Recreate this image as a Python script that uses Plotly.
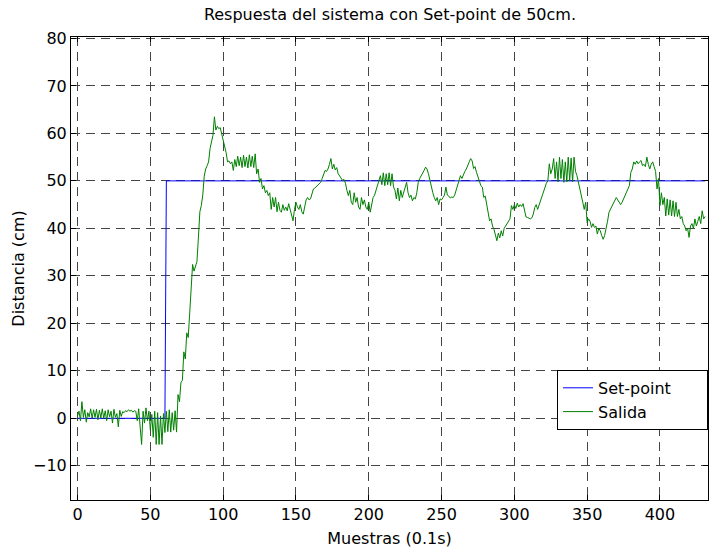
import plotly.graph_objects as go

# Muestras de la salida medida (cm), una por periodo de 0.1 s
salida = [
    0.5, 1.5, -0.5, 3.5, 0.2, 1.8, -0.8, 1.2, 0.3, 2.0,
    0.0, 1.8, 0.2, 1.9, -0.3, 1.7, 0.1, 2.0, 0.0, 1.6,
    -0.5, 1.8, 0.3, 1.5, -1.0, 1.9, 0.2, 1.0, -1.8, 1.7,
    0.4, 1.4, 1.2, 1.6, 1.4, 1.8, 1.5, 1.7, 1.3, 1.6,
    1.5, -0.5, 2.0, -1.5, -5.5, 1.5, -1.0, 2.2, -0.5, 1.5,
    -2.5, 0.8, -4.0, 1.5, -5.5, 1.2, -5.5, 0.5, -5.5, 1.0,
    -3.0, 1.5, -2.8, 1.8, -2.9, 1.2, -2.5, 1.6, -2.9, 5.0,
    3.5, 7.5, 8.0, 14.0, 12.5, 18.0, 17.0, 22.0, 27.0, 32.4,
    31.0, 32.0, 33.0, 38.0, 43.5, 44.8, 47.0, 51.0, 52.5, 53.2,
    54.0, 56.8, 58.5, 59.6, 63.5, 60.7, 61.5, 61.0, 61.2, 60.0,
    58.5, 57.8, 56.0, 54.0, 54.2, 53.6, 54.0, 52.2, 54.5, 53.0,
    55.2, 53.2, 55.0, 52.8, 55.4, 53.0, 55.0, 52.7, 55.5, 53.0,
    55.2, 52.8, 55.7, 51.5, 52.5, 49.7, 50.5, 48.3, 49.0, 47.5,
    48.0, 46.9, 47.5, 44.0, 46.5, 44.5, 46.5, 43.5, 45.5, 43.8,
    43.4, 45.0, 43.8, 44.5, 43.7, 45.2, 44.0, 43.0, 41.6, 44.0,
    45.5, 44.5, 44.0, 45.0, 43.5, 43.0, 44.5, 46.0, 46.5, 46.0,
    46.2, 47.5, 48.3, 48.5, 48.8, 49.0, 49.3, 49.7, 50.5, 51.5,
    52.2, 52.0, 52.5, 53.5, 54.7, 52.5, 53.5, 52.3, 52.8, 51.5,
    51.0, 50.5, 50.1, 50.3, 49.5, 48.0, 46.9, 48.0, 45.5, 45.0,
    47.5, 45.5, 46.5, 44.5, 44.0, 46.5, 45.0, 46.0, 44.5, 44.0,
    45.5, 43.4, 45.0, 46.5, 47.0, 48.0, 49.0, 50.0, 51.1, 49.2,
    51.7, 49.0, 51.5, 49.2, 51.7, 49.0, 51.5, 48.7, 48.0, 46.2,
    48.5, 45.8, 48.0, 46.5, 47.5, 48.5, 49.7, 47.5, 46.5, 47.0,
    45.8, 46.5, 46.2, 47.5, 49.7, 50.5, 51.0, 51.5, 52.2, 52.9,
    52.5, 51.5, 50.0, 48.3, 47.5, 46.5, 45.8, 46.5, 45.0, 46.2,
    46.0, 46.5, 47.0, 48.7, 47.0, 46.8, 46.4, 46.6, 46.5, 47.0,
    48.0, 49.0, 50.2, 51.1, 50.5, 51.5, 52.0, 52.5, 53.5, 54.0,
    54.7, 54.2, 52.6, 53.0, 51.8, 50.8, 50.0, 49.0, 48.7, 46.5,
    46.8, 45.0, 43.5, 41.6, 42.0, 40.5, 39.8, 38.5, 37.4, 39.0,
    38.0, 39.5, 38.4, 40.0, 40.5, 41.0, 41.6, 42.0, 44.8, 44.0,
    45.0, 44.2, 45.3, 44.5, 45.0, 44.6, 45.2, 43.5, 42.4, 42.3,
    42.2, 42.0, 42.2, 43.0, 44.4, 45.0, 44.0, 45.0, 45.5, 46.5,
    47.5, 49.0, 49.5, 50.0, 53.6, 51.5, 52.5, 54.7, 50.5, 54.0,
    49.8, 55.0, 50.5, 54.5, 49.7, 54.0, 49.8, 55.0, 50.0, 54.8,
    49.8, 55.0, 52.0, 51.1, 49.5, 48.3, 47.0, 45.5, 44.0, 45.5,
    41.2, 42.0, 41.5, 40.2, 41.0, 40.2, 40.5, 38.8, 40.0, 39.5,
    38.5, 37.7, 38.5, 39.8, 41.5, 43.4, 44.0, 44.8, 45.2, 46.0,
    46.5, 46.0, 45.5, 45.0, 45.5, 46.2, 47.0, 47.5, 48.5, 49.0,
    51.8, 52.5, 54.0, 53.5, 54.2, 53.6, 54.0, 54.3, 53.2, 53.5,
    53.0, 55.0, 53.5, 52.5, 53.5, 54.0, 53.0, 52.0, 48.3, 50.5,
    44.8, 47.5, 45.0, 46.5, 42.6, 46.2, 42.8, 46.0, 42.6, 45.8,
    42.5, 45.5, 42.5, 44.0, 42.0, 42.5, 41.0, 40.5, 39.5, 40.0,
    38.1, 40.5, 41.0, 40.0, 42.0, 40.5, 41.5, 42.5, 41.0, 43.7,
    42.0, 42.5,
]

# Referencia: 0 cm hasta la muestra 60, luego escalón a 50 cm
paso_muestra = 61
nivel_inicial = 0
nivel_final = 50

muestras = list(range(len(salida)))
setpoint = [nivel_inicial if k < paso_muestra else nivel_final for k in muestras]

x_ticks = [0, 50, 100, 150, 200, 250, 300, 350, 400]
y_ticks = [-10, 0, 10, 20, 30, 40, 50, 60, 70, 80]

fuente = "DejaVu Sans, Verdana, sans-serif"
relleno = "\u00a0" * 6  # ensancha el recuadro de la leyenda

fig = go.Figure()
fig.add_trace(go.Scatter(
    x=muestras, y=setpoint, mode="lines", name="Set-point" + relleno,
    line=dict(color="#0000FF", width=1),
))
fig.add_trace(go.Scatter(
    x=muestras, y=salida, mode="lines", name="Salida" + relleno,
    line=dict(color="#008000", width=1),
))

eje_comun = dict(
    showline=True, linecolor="black", linewidth=1, mirror="ticks",
    ticks="inside", ticklen=5, tickcolor="black", tickwidth=1,
    showgrid=True, gridcolor="#444444", gridwidth=1, griddash="9px,6px",
    zeroline=False, tickfont=dict(family=fuente, size=16, color="black"),
)

fig.update_layout(
    width=709, height=550,
    margin=dict(l=71, r=1, t=37, b=50),
    paper_bgcolor="white", plot_bgcolor="white",
    title=dict(
        text="Respuesta del sistema con Set-point de 50cm.",
        x=0.55, xanchor="center", y=0.973, yanchor="middle",
        font=dict(family=fuente, size=16, color="black"),
    ),
    xaxis=dict(
        range=[-4.5, 433], tickvals=x_ticks,
        title=dict(text="Muestras (0.1s)", standoff=9,
                   font=dict(family=fuente, size=16, color="black")),
        **eje_comun,
    ),
    yaxis=dict(
        range=[-17.2, 80.3], tickvals=y_ticks,
        title=dict(text="Distancia (cm)", standoff=4,
                   font=dict(family=fuente, size=16, color="black")),
        **eje_comun,
    ),
    legend=dict(
        x=0.763, y=0.281, xanchor="left", yanchor="top",
        bgcolor="white", bordercolor="black", borderwidth=1,
        font=dict(family=fuente, size=16, color="black"),
        tracegroupgap=0, itemwidth=30,
    ),
    showlegend=True,
)

fig.write_html("out.html")
